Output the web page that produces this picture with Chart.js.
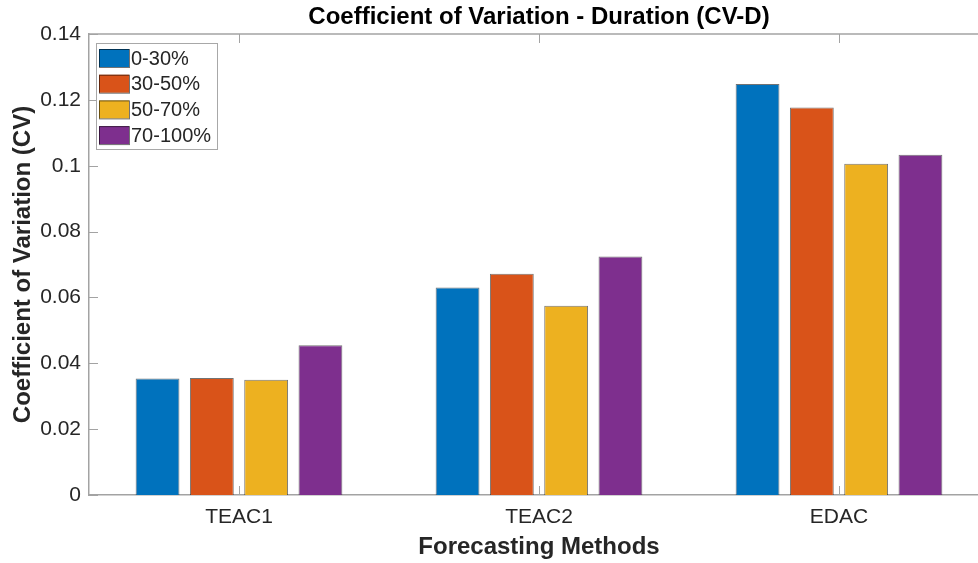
<!DOCTYPE html>
<html>
<head>
<meta charset="utf-8">
<script src="https://cdn.jsdelivr.net/npm/chart.js@4/dist/chart.umd.min.js"></script>
<style>
  html, body { margin: 0; padding: 0; background: #fff; overflow: hidden; width: 978px; height: 563px; }
  #wrap { width: 1000px; height: 563px; }
</style>
</head>
<body>
<div id="wrap"><canvas id="c" width="1000" height="563"></canvas></div>
<script>
const categories = ['TEAC1', 'TEAC2', 'EDAC'];
const seriesLabels = ['0-30%', '30-50%', '50-70%', '70-100%'];
const s0_30 = [0.0354, 0.0630, 0.1248];
const s30_50 = [0.0355, 0.0672, 0.1177];
const s50_70 = [0.0350, 0.0575, 0.1006];
const s70_100 = [0.0455, 0.0724, 0.1033];
const yTicks = [0, 0.02, 0.04, 0.06, 0.08, 0.1, 0.12, 0.14];
const colors = ['#0072BD', '#D95319', '#EDB120', '#7E2F8E'];
const chartTitle = 'Coefficient of Variation - Duration (CV-D)';

const FONT = '"Liberation Sans", Arial, Helvetica, sans-serif';
const AXIS_COLOR = '#a3a3a3';
const TEXT_COLOR = '#262626';

const seriesValues = [s0_30, s30_50, s50_70, s70_100];

const matlabAxes = {
  id: 'matlabAxes',
  beforeDatasetsDraw(chart) {
    const ctx = chart.ctx;
    const a = chart.chartArea;
    const x = chart.scales.x, y = chart.scales.y;
    ctx.save();
    ctx.strokeStyle = AXIS_COLOR;
    ctx.lineWidth = 1.5;
    ctx.beginPath();
    ctx.moveTo(a.left, a.top);
    ctx.lineTo(a.right, a.top);
    ctx.stroke();
    ctx.lineWidth = 1;
    yTicks.forEach(v => {
      const py = Math.round(y.getPixelForValue(v)) + 0.5;
      ctx.beginPath();
      ctx.moveTo(a.left, py);
      ctx.lineTo(a.left + 9, py);
      ctx.stroke();
    });
    categories.forEach((c, i) => {
      const px = Math.round(x.getPixelForValue(i)) + 0.5;
      ctx.beginPath();
      ctx.moveTo(px, a.bottom);
      ctx.lineTo(px, a.bottom - 9);
      ctx.moveTo(px, a.top);
      ctx.lineTo(px, a.top + 9);
      ctx.stroke();
    });
    ctx.restore();
  },
  afterDraw(chart) {
    const ctx = chart.ctx;
    const a = chart.chartArea;
    ctx.save();
    // title centred over the plot area
    ctx.fillStyle = '#000';
    ctx.font = 'bold 24px ' + FONT;
    ctx.textAlign = 'center';
    ctx.textBaseline = 'middle';
    ctx.fillText(chartTitle, (a.left + a.right) / 2, 17);
    // legend
    const bx = a.left + 7, by = a.top + 9, bw = 121, bh = 106;
    ctx.fillStyle = '#fff';
    ctx.fillRect(bx, by, bw, bh);
    ctx.strokeStyle = '#a8a8a8';
    ctx.lineWidth = 1;
    ctx.strokeRect(bx + 0.5, by + 0.5, bw, bh);
    chart.data.datasets.forEach((ds, i) => {
      const sy = by + 6 + i * 25.7;
      ctx.fillStyle = ds.backgroundColor;
      ctx.fillRect(bx + 3, sy, 30, 18);
      ctx.strokeStyle = 'rgba(0,0,0,0.55)';
      ctx.strokeRect(bx + 3.5, sy + 0.5, 30, 18);
      ctx.fillStyle = TEXT_COLOR;
      ctx.font = '20px ' + FONT;
      ctx.textBaseline = 'middle';
      ctx.textAlign = 'left';
      ctx.fillText(ds.label, bx + 35, sy + 10);
    });
    ctx.restore();
  }
};

new Chart(document.getElementById('c'), {
  type: 'bar',
  data: {
    labels: categories,
    datasets: seriesLabels.map((lab, i) => ({
      label: lab,
      data: seriesValues[i],
      backgroundColor: colors[i],
      borderColor: 'rgba(0,0,0,0.55)',
      borderWidth: 1,
      borderSkipped: 'bottom',
      categoryPercentage: 0.724,
      barPercentage: 0.807
    }))
  },
  options: {
    responsive: false,
    animation: false,
    devicePixelRatio: 1,
    layout: { padding: { left: 0, right: 11, top: 34, bottom: 0 } },
    plugins: {
      legend: { display: false },
      tooltip: { enabled: false },
      title: { display: false }
    },
    scales: {
      x: {
        type: 'category',
        grid: { display: false, drawTicks: false },
        border: { display: true, color: AXIS_COLOR, width: 1.5 },
        ticks: { color: TEXT_COLOR, font: { family: FONT, size: 21 }, padding: 10 },
        title: {
          display: true,
          text: 'Forecasting Methods',
          color: TEXT_COLOR,
          font: { family: FONT, size: 24, weight: 'bold' },
          padding: { top: 0, bottom: 1 }
        },
        afterFit(s) { s.height = 68; }
      },
      y: {
        min: 0,
        max: 0.14,
        grid: { display: false, drawTicks: false },
        border: { display: true, color: AXIS_COLOR, width: 1.5 },
        afterBuildTicks(s) { s.ticks = yTicks.map(v => ({ value: v })); },
        ticks: {
          color: TEXT_COLOR,
          font: { family: FONT, size: 21 },
          padding: 8,
          callback: v => String(+Number(v).toFixed(2))
        },
        title: {
          display: true,
          text: 'Coefficient of Variation (CV)',
          color: TEXT_COLOR,
          font: { family: FONT, size: 24, weight: 'bold' },
          padding: { top: 9, bottom: 9 }
        },
        afterFit(s) { s.width = 89; }
      }
    }
  },
  plugins: [matlabAxes]
});
</script>
</body>
</html>
